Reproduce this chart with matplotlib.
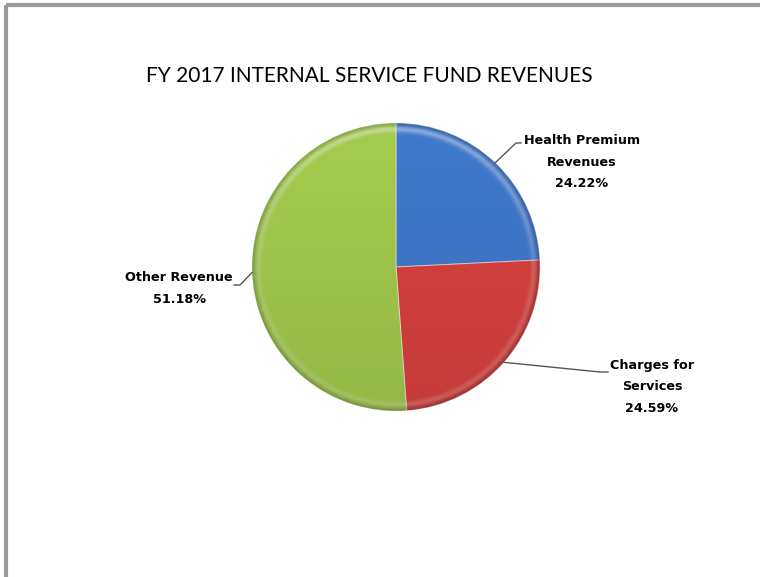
import numpy as np
import matplotlib
matplotlib.use("Agg")
import matplotlib.pyplot as plt
from matplotlib.patches import Circle
from matplotlib.lines import Line2D

# Revenue shares (percent)
categories = ["Health Premium\nRevenues", "Charges for\nServices", "Other Revenue"]
shares = [24.22, 24.59, 51.18]
pct_labels = ["24.22%", "24.59%", "51.18%"]
colors = ["#4079cb", "#d8413e", "#a3ca4c"]
title = "FY 2017 INTERNAL SERVICE FUND REVENUES"

W, H = 760, 577
fig = plt.figure(figsize=(W / 100, H / 100), dpi=100)
ax = fig.add_axes([0, 0, 1, 1])

cx, cy, R = 396, H - 267, 144

wedges, _ = ax.pie(shares, colors=colors, startangle=90, counterclock=False,
                   center=(cx, cy), radius=R, frame=True,
                   wedgeprops=dict(linewidth=0.8, edgecolor="#ffffff70"))
ax.set_xlim(0, W)
ax.set_ylim(0, H)
ax.set_aspect("equal")
ax.axis("off")

# chart frame: top and left edges only
frame_c = "#9a9a9a"
ax.add_line(Line2D([6, W], [H - 5, H - 5], color=frame_c, lw=3, solid_capstyle="butt"))
ax.add_line(Line2D([6, 6], [0, H - 5], color=frame_c, lw=3, solid_capstyle="butt"))

# soft bevel shading over the pie
n = 400
xs = np.linspace(cx - R, cx + R, n)
ys = np.linspace(cy - R, cy + R, n)
X, Y = np.meshgrid(xs, ys)
r = np.hypot(X - cx, Y - cy) / R
v = (Y - cy) / R
shade = np.zeros((n, n, 4))
dark = np.clip(0.04 - 0.05 * v, 0, 0.12)
rim = np.clip((r - 0.92) / 0.08, 0, 1) ** 2
shade[..., 3] = np.clip(dark + 0.20 * rim, 0, 1)
img = ax.imshow(shade, extent=(cx - R, cx + R, cy - R, cy + R), origin="lower",
                interpolation="bilinear", zorder=3)
img.set_clip_path(Circle((cx, cy), R, transform=ax.transData))

# light band just inside the rim
light = np.zeros((n, n, 4))
light[..., :3] = 1.0
light[..., 3] = np.exp(-((r - 0.96) / 0.022) ** 2) * (0.18 + 0.22 * np.clip(v, 0, 1))
img2 = ax.imshow(light, extent=(cx - R, cx + R, cy - R, cy + R), origin="lower",
                 interpolation="bilinear", zorder=3)
img2.set_clip_path(Circle((cx, cy), R, transform=ax.transData))

ax.text(369, H - 76, title, ha="center", va="center", fontsize=15,
        family="Lato", color="#000000")

# data labels with leader lines
label_font = dict(family="DejaVu Sans", weight="bold", fontsize=9.2, color="#000000",
                  ha="center", va="center", linespacing=1.82)
cum = np.cumsum([0] + shares)
mids = [90 - 3.6 * (cum[i] + shares[i] / 2) for i in range(3)]

label_pos = [(582, H - 162), (652, H - 387), (179, H - 288.5)]
elbows = [((516, H - 143), (521, H - 143)),
          ((600, H - 372), (608, H - 372)),
          ((240, H - 285), (234, H - 285))]
for i in range(3):
    a = np.deg2rad(mids[i])
    px, py = cx + R * np.cos(a), cy + R * np.sin(a)
    (ex, ey), (fx, fy) = elbows[i]
    ax.add_line(Line2D([px, ex, fx], [py, ey, fy], color="#555555", lw=1.0, zorder=4))
    ax.text(label_pos[i][0], label_pos[i][1], categories[i] + "\n" + pct_labels[i],
            **label_font)

fig.savefig("out.png", dpi=100, facecolor="white")
